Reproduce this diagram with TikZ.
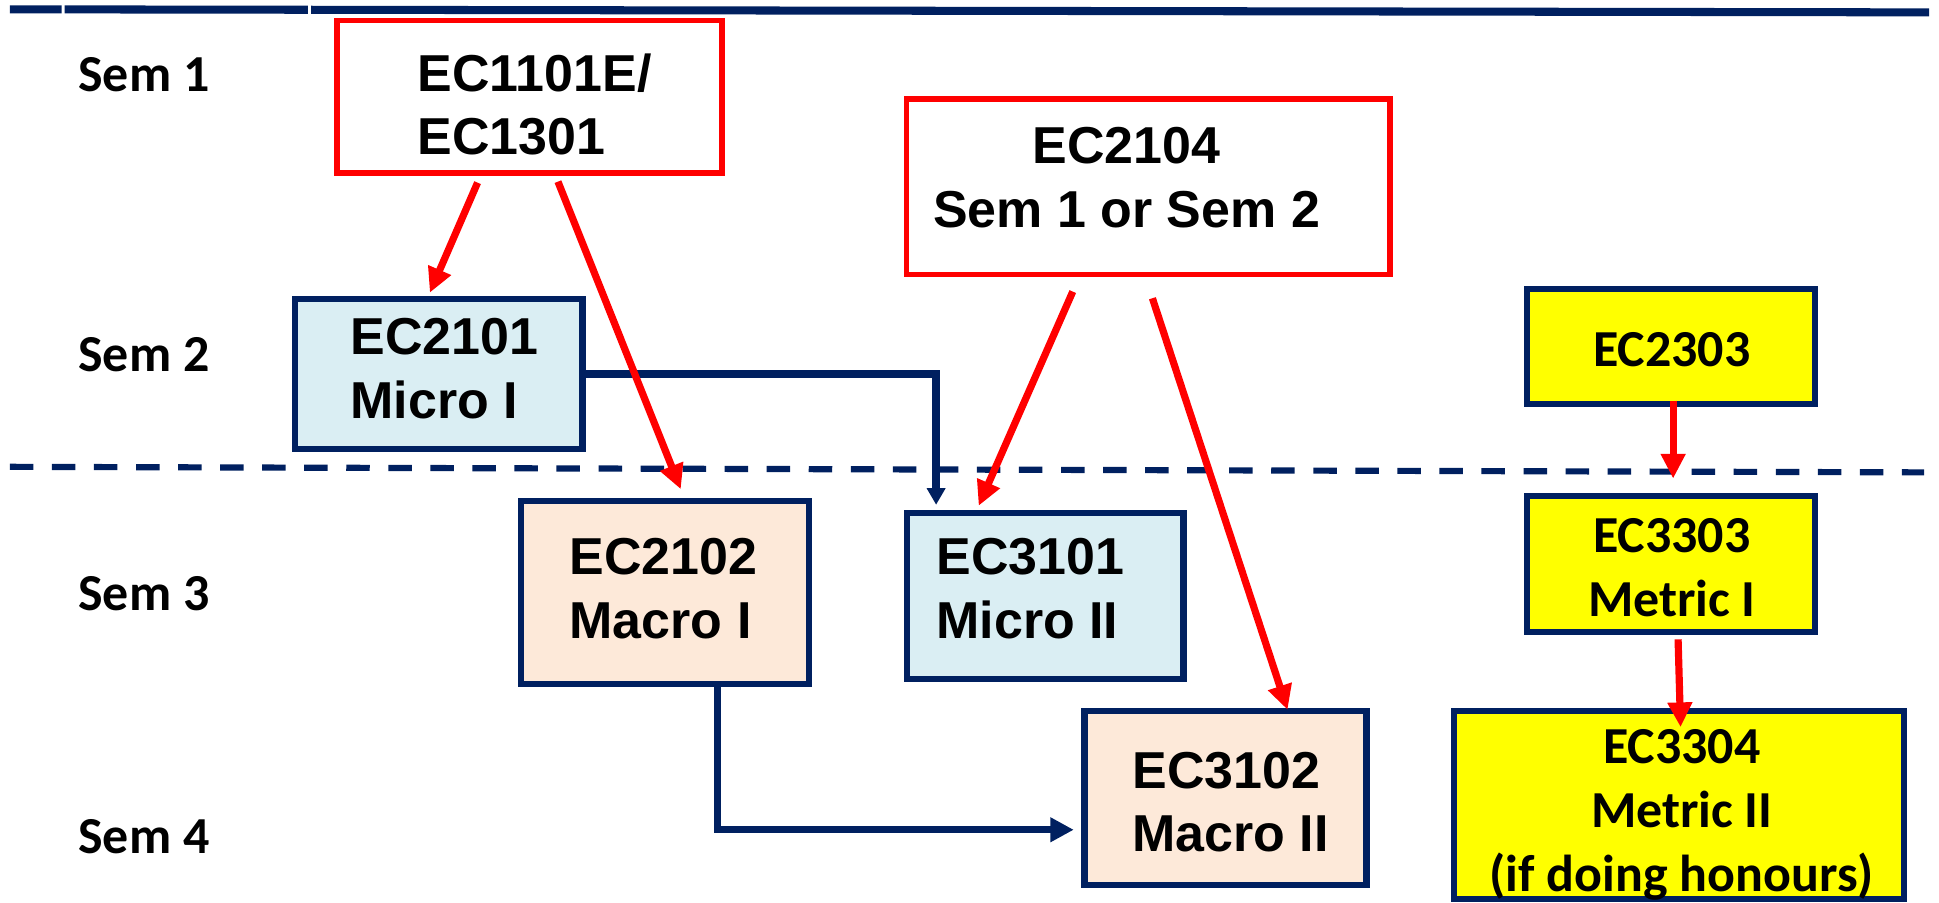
\documentclass[tikz,border=0pt]{standalone}
\usepackage{fontspec}
\usetikzlibrary{arrows.meta,calc}
\newfontfamily\arialf{Liberation Sans}
\newfontfamily\calf{Carlito}
\definecolor{navy}{HTML}{002060}
\definecolor{lblue}{HTML}{DAEEF3}
\definecolor{peach}{HTML}{FDE9D9}
\definecolor{yel}{HTML}{FFFF00}
\definecolor{rd}{HTML}{FF0000}
\tikzset{
  redbox/.style={draw=rd, line width=4.6pt, fill=white, rectangle, inner sep=0pt, outer sep=0pt},
  navybox/.style={draw=navy, line width=5pt, rectangle, inner sep=0pt, outer sep=0pt},
  atext/.style={font=\arialf\bfseries\fontsize{42}{51.5}\selectfont, inner sep=0pt, align=left, text=black},
  ctext/.style={font=\calf\bfseries\fontsize{42}{52}\selectfont, inner sep=0pt, align=center, text=black},
  semlabel/.style={font=\calf\bfseries\fontsize{42}{52}\selectfont, inner sep=0pt, anchor=base west},
  redarrow/.style={draw=rd, line width=5.8pt, -{Triangle[length=20pt,width=19pt]}},
  navyarrow/.style={draw=navy, line width=6pt},
  navyrule/.style={draw=navy, line width=6.5pt},
}
\begin{document}
\begin{tikzpicture}[x=1pt,y=-1pt]
\useasboundingbox (0,0) rectangle (1568,730.2);

% top rule
\draw[navyrule] (8,7.5) -- (49.8,7.6);
\draw[navyrule] (52.3,7.6) -- (249,7.9);
\draw[navyrule] (251.5,7.9) -- (1560,10);

% dashed separator
\draw[draw=navy, line width=5pt, dash pattern=on 19pt off 15pt] (8,377.5) -- (1556,382);

% semester labels
\node[semlabel] (S1) at (63.2,74.3) {Sem 1};
\node[semlabel] (S2) at (63.2,300.5) {Sem 2};
\node[semlabel] (S3) at (63.2,493.3) {Sem 3};
\node[semlabel] (S4) at (63.2,690) {Sem 4};

% boxes
\node[redbox, minimum width=311.5pt, minimum height=123.5pt] (A) at (428.25,78.25) {};
\node[redbox, minimum width=391pt, minimum height=141.7pt] (B) at (928.5,151.15) {};
\node[navybox, fill=lblue, minimum width=232.5pt, minimum height=121.2pt] (C) at (354.75,302.4) {};
\node[navybox, fill=peach, minimum width=232.8pt, minimum height=148pt] (D) at (537.9,479) {};
\node[navybox, fill=lblue, minimum width=223.3pt, minimum height=134.2pt] (E) at (845.35,482.1) {};
\node[navybox, fill=peach, minimum width=228pt, minimum height=140.5pt] (F) at (991,645.25) {};
\node[navybox, fill=yel, minimum width=233pt, minimum height=93pt] (G) at (1351.5,280.5) {};
\node[navybox, fill=yel, minimum width=233pt, minimum height=110pt] (H) at (1351.5,456) {};
\node[navybox, fill=yel, minimum width=364pt, minimum height=152pt] (I) at (1358,651) {};

% box texts
\node[atext, anchor=north west] (At) at (337.5,43.2) {EC1101E/\\EC1301};
\node[atext, anchor=north, align=center] (Bt) at (911,102.7) {EC2104\\Sem 1 or Sem 2};
\node[atext, anchor=north west] (Ct) at (283.3,257.4) {EC2101\\Micro I};
\node[atext, anchor=north west] (Dt) at (460.5,435.2) {EC2102\\Macro I};
\node[atext, anchor=north west] (Et) at (757.2,435) {EC3101\\Micro II};
\node[atext, anchor=north west] (Ft) at (915.6,607.7) {EC3102\\Macro II};
\node[ctext, anchor=north] (Gt) at (1352,268.6) {EC2303};
\node[ctext, anchor=north] (Ht) at (1352,419) {EC3303\\Metric I};
\node[ctext, anchor=north] (It) at (1360,589.5) {EC3304\\Metric II\\(if doing honours)};

% navy connectors
\draw[navyarrow, -{Triangle[length=13.5pt,width=14.5pt]}] (C.east) -| ($(E.north)+(-88.35,-6.8)$);
\draw[navyarrow, -{Triangle[length=19pt,width=19pt]}] ($(D.south)+(42.4,0)$) |- ($(F.west)+(-8.7,25.75)$);

% red arrows
\draw[redarrow] ($(A.south)+(-42.05,7.7)$) -- ($(C.north)+(-7.15,-5.1)$);
\draw[redarrow] ($(A.south)+(22.95,6.9)$) -- ($(D.north)+(12.6,-9.4)$);
\draw[redarrow] ($(B.south)+(-61,13.8)$) -- ($(E.north)+(-53.95,-6)$);
\draw[redarrow] ($(B.south)+(3.4,19.2)$) -- ($(F.north)+(50.2,-1)$);
\draw[redarrow] ($(G.south)+(1.5,-3)$) -- ($(H.north)+(1.5,-14)$);
\draw[redarrow] ($(H.south)+(5.5,6)$) -- ($(I.north)+(1,13)$);
\end{tikzpicture}
\end{document}
